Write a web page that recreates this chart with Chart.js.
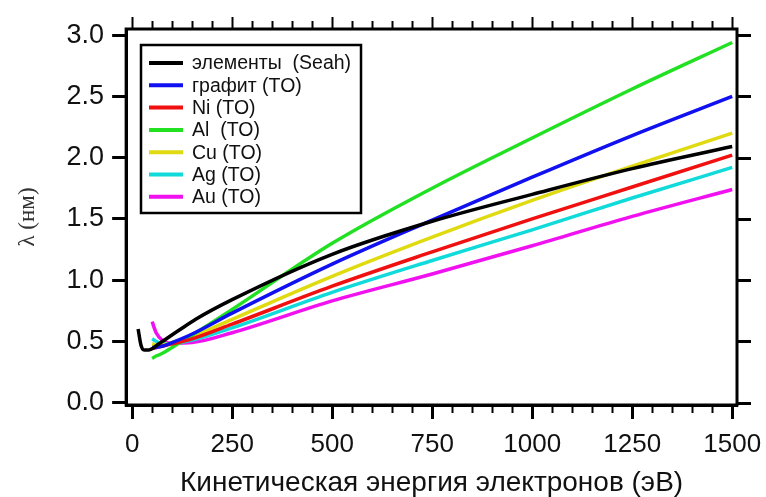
<!DOCTYPE html>
<html>
<head>
<meta charset="utf-8">
<script src="https://cdn.jsdelivr.net/npm/chart.js@4.4.1/dist/chart.umd.min.js"></script>
<style>
  html, body { margin: 0; padding: 0; background: #fff; }
  #wrap { width: 766px; height: 497px; }
</style>
</head>
<body>
<div id="wrap"><canvas id="imfpChart" width="766" height="497"></canvas></div>
<script>
// Кривая Seah для элементов
const seahEnergy = [15, 22, 30, 42, 67, 117, 159, 250, 500, 750, 1000, 1250, 1500];
const seahValues = [0.60, 0.47, 0.43, 0.43, 0.48, 0.59, 0.68, 0.84, 1.21, 1.48, 1.70, 1.91, 2.09];

// Расчёты TO (TPP-2M), общая сетка энергий
const tppEnergy = [50, 60, 75, 100, 150, 250, 500, 750, 1000, 1250, 1500];
const graphiteValues = [0.45, 0.45, 0.46, 0.49, 0.56, 0.73, 1.13, 1.49, 1.84, 2.18, 2.50];
const niValues = [0.44, 0.45, 0.46, 0.48, 0.52, 0.64, 0.95, 1.23, 1.50, 1.76, 2.02];
const alValues = [0.36, 0.38, 0.40, 0.45, 0.55, 0.76, 1.30, 1.75, 2.16, 2.56, 2.94];
const cuValues = [0.48, 0.47, 0.47, 0.49, 0.54, 0.68, 1.03, 1.35, 1.65, 1.93, 2.20];
const agValues = [0.52, 0.50, 0.48, 0.48, 0.51, 0.61, 0.90, 1.16, 1.41, 1.67, 1.92];
const auValues = [0.66, 0.57, 0.51, 0.485, 0.49, 0.57, 0.83, 1.05, 1.28, 1.52, 1.74];

// Подписи осей
const xTicks = [0, 250, 500, 750, 1000, 1250, 1500];
const yTicks = [0, 0.5, 1.0, 1.5, 2.0, 2.5, 3.0];

const SANS = "'Liberation Sans', Arial, sans-serif";

function toPoints(xs, ys) {
  return xs.map((x, i) => ({ x: x, y: ys[i] }));
}

function makeDataset(label, color, xs, ys) {
  return {
    label: label,
    data: toPoints(xs, ys),
    borderColor: color,
    backgroundColor: color,
    borderWidth: 3.5,
    pointRadius: 0,
    cubicInterpolationMode: "monotone",
    fill: false,
  };
}

const datasets = [
  makeDataset("элементы  (Seah)", "#000000", seahEnergy, seahValues),
  makeDataset("графит (TO)", "#1010f0", tppEnergy, graphiteValues),
  makeDataset("Ni (TO)", "#f01010", tppEnergy, niValues),
  makeDataset("Al  (TO)", "#22e022", tppEnergy, alValues),
  makeDataset("Cu (TO)", "#e0da10", tppEnergy, cuValues),
  makeDataset("Ag (TO)", "#10dada", tppEnergy, agValues),
  makeDataset("Au (TO)", "#f010f0", tppEnergy, auValues),
];

// Рамка, зеркальные и мелкие штрихи
const frameTicks = {
  id: "frameTicks",
  afterDatasetsDraw(chart) {
    const ctx = chart.ctx;
    const area = chart.chartArea;
    const xs = chart.scales.x;
    const ys = chart.scales.y;
    ctx.save();
    ctx.strokeStyle = "#000";
    ctx.lineWidth = 3;
    ctx.strokeRect(area.left, area.top, area.right - area.left, area.bottom - area.top);

    ctx.lineWidth = 2;
    for (let e = 0; e <= 1500; e += 50) {
      const px = Math.round(xs.getPixelForValue(e)) + 0.5;
      // низ: мелкие штрихи между основными
      if (e % 250 !== 0) {
        ctx.beginPath();
        ctx.moveTo(px, area.bottom);
        ctx.lineTo(px, area.bottom + 8);
        ctx.stroke();
      }
      // верх
      const len = e % 250 === 0 ? 12 : 8;
      ctx.beginPath();
      ctx.moveTo(px, area.top);
      ctx.lineTo(px, area.top - len);
      ctx.stroke();
    }
    ctx.lineWidth = 3;
    yTicks.forEach((v) => {
      const py = Math.round(ys.getPixelForValue(v)) + 0.5;
      ctx.beginPath();
      ctx.moveTo(area.right, py);
      ctx.lineTo(area.right + 14, py);
      ctx.stroke();
    });
    ctx.restore();
  },
};

// Легенда внутри области графика
const boxLegend = {
  id: "boxLegend",
  afterDraw(chart) {
    const ctx = chart.ctx;
    ctx.save();
    ctx.fillStyle = "#fff";
    ctx.fillRect(141, 45, 220, 168);
    ctx.strokeStyle = "#000";
    ctx.lineWidth = 2.5;
    ctx.strokeRect(141, 45, 220, 168);
    ctx.font = "19.5px " + SANS;
    ctx.textBaseline = "middle";
    chart.data.datasets.forEach((ds, i) => {
      const y = 63 + i * 22.3;
      ctx.strokeStyle = ds.borderColor;
      ctx.lineWidth = 4;
      ctx.beginPath();
      ctx.moveTo(149, y);
      ctx.lineTo(183, y);
      ctx.stroke();
      ctx.fillStyle = "#111";
      ctx.fillText(ds.label, 192, y + 1);
    });
    ctx.restore();
  },
};

const ctx = document.getElementById("imfpChart").getContext("2d");
const chart = new Chart(ctx, {
  type: "line",
  data: { datasets: datasets },
  options: {
    responsive: false,
    animation: false,
    layout: { padding: { top: 29, right: 29, left: 14, bottom: 0 } },
    plugins: {
      legend: { display: false },
      tooltip: { enabled: false },
    },
    scales: {
      x: {
        type: "linear",
        min: -15,
        max: 1512,
        afterBuildTicks: (axis) => {
          axis.ticks = xTicks.map((v) => ({ value: v }));
        },
        afterFit: (axis) => {
          axis.height = 92;
        },
        ticks: {
          color: "#111",
          font: { family: SANS, size: 26, lineHeight: 1.8 },
          padding: 2,
          maxRotation: 0,
          autoSkip: false,
          callback: (v) => String(v),
        },
        grid: {
          drawOnChartArea: false,
          drawTicks: true,
          tickLength: 14,
          tickWidth: 3,
          tickColor: "#000",
        },
        border: { display: true, color: "#000", width: 3 },
        title: {
          display: true,
          text: "Кинетическая энергия электронов (эВ)",
          color: "#111",
          font: { family: SANS, size: 28, lineHeight: 1.0 },
          padding: { top: 0, bottom: 0 },
        },
      },
      y: {
        type: "linear",
        min: -0.02,
        max: 3.05,
        afterBuildTicks: (axis) => {
          axis.ticks = yTicks.map((v) => ({ value: v }));
        },
        ticks: {
          color: "#111",
          font: { family: SANS, size: 27 },
          padding: 8,
          autoSkip: false,
          callback: (v) => v.toFixed(1),
        },
        grid: {
          drawOnChartArea: false,
          drawTicks: true,
          tickLength: 14,
          tickWidth: 3,
          tickColor: "#000",
        },
        border: { display: true, color: "#000", width: 3 },
        title: {
          display: true,
          text: "λ (нм)",
          color: "#333",
          font: { family: "'Liberation Serif', 'DejaVu Serif', serif", size: 23 },
          padding: { top: 0, bottom: 17 },
        },
      },
    },
  },
  plugins: [frameTicks, boxLegend],
});
</script>
</body>
</html>
